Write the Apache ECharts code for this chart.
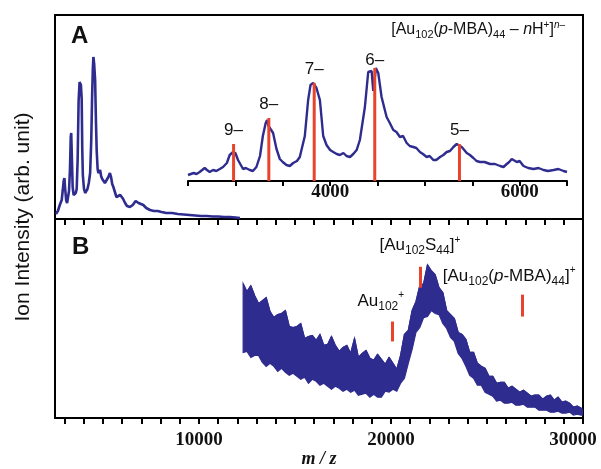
<!DOCTYPE html>
<html>
<head>
<meta charset="utf-8">
<script src="https://cdn.jsdelivr.net/npm/echarts@6/dist/echarts.min.js"></script>
<style>html,body{margin:0;padding:0;background:#fff;}#c{width:601px;height:469px;}</style>
</head>
<body>
<div id="c"></div>
<script>
// ---------- Panel A, full-range spectrum (m/z, intensity) ----------
const aMz = [2550,2600,2650,2700,2750,2800,2850,2900,2950,2990,3030,3080,3130,3180,3230,3280,3320,3345,3380,3420,3470,3520,3580,3630,3680,3730,3780,3810,3850,3890,3920,3950,4010,4070,4130,4190,4260,4330,4390,4430,4470,4500,4540,4590,4630,4670,4720,4760,4800,4850,4900,4960,5020,5100,5190,5280,5360,5420,5480,5540,5620,5700,5800,5900,5970,6050,6150,6250,6400,6550,6700,6760,6850,6950,7100,7250,7450,7650,7850,8050,8300,8600,8900,9200,9500,9800,10100,10400,10700,11000,11300,11600,11900,12135];
const aInt = [5,6,8,11,14,16,19,28,38,41,30,19,16,18,28,50,82,86,60,32,24,22,26,30,60,118,137,139,134,120,70,44,30,26,27,30,36,46,80,120,150,162,155,139,100,69,50,46,48,49,43,40,39,36,36,42,46,42,35,32,27,22,20,24,26,20,16,13,12,14,18,19,16,14,14,11,9,8,8,7,6,6,5,4.5,4,3.5,3,3,2.5,2.5,2,2,1.5,1];

// ---------- Panel A inset (zoom 2500-6500) ----------
const insetMz = [2500,2560,2590,2623,2676,2700,2729,2765,2799,2835,
2870,2910,2940,2976,3000,3028,3081,3110,3152,3185,
3222,3260,3290,3320,3335,3350,3363,3398,3434,3469,
3500,3539,3575,3610,3650,3680,3733,3768,3793,3821,
3856,3892,3927,3962,4000,4033,4070,4103,4140,4173,
4210,4244,4280,4314,4367,4402,4438,4455,4483,4508,
4543,4596,4630,4667,4700,4737,4770,4808,4840,4878,
4910,4948,4980,5019,5050,5089,5120,5160,5195,5230,
5265,5301,5336,5389,5442,5475,5512,5545,5583,5630,
5688,5740,5794,5830,5864,5890,5917,5970,6000,6041,
6090,6146,6200,6252,6300,6358,6410,6463,6500];
const insetInt = [6,8,7,9,13,11,9,11,10,12,
14,18,26,29,28,21,12,13,11,10,
14,25,45,58,61,55,53,48,32,22,
19,16,15,18,20,24,45,81,96,98,
93,81,45,36,31,29,27,26,28,25,
24,27,31,41,74,109,110,90,113,108,
84,64,58,51,49,44,45,38,35,34,
33,29,27,24,25,21,21,24,26,29,
30,34,37,34,28,26,23,20,19,19,
17,17,15,14,17,19,22,19,20,15,
13,12,13,11,10,11,12,10,9];

// charge-state markers [Au102(p-MBA)44 - nH+]n-
const chargeMz = [2981, 3353, 3832, 4471, 5365];
const chargeHeight = [37, 63, 98, 113, 37];
const chargeLabels = ['9\u2013', '8\u2013', '7\u2013', '6\u2013', '5\u2013'];

// ---------- Panel B spectrum band (upper / lower envelope) ----------
const bMz = [12300,12500,12700,12900,13100,13300,13500,13700,13900,14100,
14300,14500,14700,14900,15100,15300,15500,15700,15900,16100,
16300,16500,16700,16900,17100,17300,17500,17700,17900,18100,
18300,18500,18700,18900,19100,19300,19500,19700,19900,20100,
20300,20500,20700,20900,21100,21300,21500,21700,21900,22100,
22300,22500,22700,22900,23100,23300,23500,23700,23900,24100,
24300,24500,24700,24900,25100,25300,25500,25700,25900,26100,
26300,26500,26700,26900,27100,27300,27500,27700,27900,28100,
28300,28500,28700,28900,29100,29300,29500,29700,29900,30000];
const bUpper = [135,127,133,123,115,118,121,107,101,104,
105,108,92,91,92,95,80,82,83,78,
84,73,74,82,73,67,71,73,65,80,
61,65,68,60,58,64,59,54,61,55,
49,63,84,88,108,117,133,135,154,148,
144,131,126,108,104,100,86,84,79,66,
66,55,52,50,42,42,35,36,36,30,
32,29,26,28,25,22,23,23,19,22,
23,18,21,16,17,15,11,12,10,8];
const bLower = [66,67,61,63,63,56,52,55,52,47,
50,46,43,45,42,39,41,35,39,37,
33,35,32,29,32,30,27,29,26,28,
23,24,25,21,24,21,21,27,26,29,
27,35,40,55,69,86,91,101,102,108,
105,104,95,90,81,77,65,60,52,43,
40,33,33,26,24,22,17,18,15,15,
16,13,13,14,11,11,11,8,8,8,
6,6,7,5,5,6,3,4,3,3];

// panel B assignment marks
const bMarkMz = [20091, 21502, 26831];
const bMarkLo = [77, 131, 102];
const bMarkHi = [97, 152, 124];
const bMarkLabels = ['Au{s|102}{u|+}', '[Au{s|102}S{s|44}]{u|+}', '[Au{s|102}({i|p}-MBA){s|44}]{u|+}'];

// ---------- ticks / labels ----------
const mainTicks = [3000,4000,5000,6000,7000,8000,9000,10000,11000,12000,13000,14000,15000,16000,17000,18000,19000,20000,21000,22000,23000,24000,25000,26000,27000,28000,29000,30000];
const mainLabels = [10000, 20000, 30000];
const insetLabels = [4000, 6000];

// ---------- build ----------
const NAVY = '#2f2c8f';
const RED = '#e8432b';
const zip = (a, b) => a.slice(0, Math.min(a.length, b.length)).map((v, i) => [v, b[i]]);

const chargeLabelGap = [5, 5, 5, -1, 5];
const chargeData = chargeMz.map((m, i) => ({ value: [m, chargeHeight[i]], label: { distance: chargeLabelGap[i] } }));

const markStyle = [
  { distance: 9, padding: [0, 24, 0, 0] },
  { distance: 10, padding: [0, 0, 0, 0] },
  { distance: 7, padding: [0, 26, 0, 0] }
];
const markData = bMarkMz.map((m, i) => [
  { coord: [m, bMarkLo[i]] },
  { coord: [m, bMarkHi[i]], label: Object.assign({ formatter: bMarkLabels[i] }, markStyle[i]) }
]);

const richSub = {
  s: { fontSize: 12, verticalAlign: 'bottom', lineHeight: 22, fontFamily: 'Liberation Sans', color: '#111' },
  u: { fontSize: 10, verticalAlign: 'top', lineHeight: 22, fontFamily: 'Liberation Sans', color: '#111' },
  i: { fontSize: 17, fontStyle: 'italic', lineHeight: 22, fontFamily: 'Liberation Sans', color: '#111' }
};

const serifLabel = { fontFamily: 'Liberation Serif', fontWeight: 'bold', fontSize: 19, color: '#111' };

const chart = echarts.init(document.getElementById('c'), null, { renderer: 'canvas' });
chart.setOption({
  animation: false,
  backgroundColor: '#fff',
  title: [
    { text: 'A', left: 71, top: 24, padding: 0, textStyle: { fontFamily: 'Liberation Sans', fontWeight: 'bold', fontSize: 24, color: '#111' } },
    { text: 'B', left: 72, top: 235, padding: 0, textStyle: { fontFamily: 'Liberation Sans', fontWeight: 'bold', fontSize: 24, color: '#111' } },
    { text: '[Au{s|102}({i|p}-MBA){s|44} \u2013 {i|n}H{u|+}]{ui|n}{u|\u2013}', right: 36, top: 20, padding: 0,
      textStyle: { fontFamily: 'Liberation Sans', fontSize: 16, fontWeight: 'normal', color: '#111', lineHeight: 20,
        rich: {
          s: { fontSize: 11, verticalAlign: 'bottom', lineHeight: 20, fontFamily: 'Liberation Sans', color: '#111' },
          u: { fontSize: 10, verticalAlign: 'top', lineHeight: 20, fontFamily: 'Liberation Sans', color: '#111' },
          ui: { fontSize: 10, fontStyle: 'italic', verticalAlign: 'top', lineHeight: 20, fontFamily: 'Liberation Sans', color: '#111' },
          i: { fontSize: 16, fontStyle: 'italic', lineHeight: 20, fontFamily: 'Liberation Sans', color: '#111' }
        } } }
  ],
  grid: [
    { left: 55, top: 15, width: 528, height: 204, show: true, borderColor: '#000', borderWidth: 2, backgroundColor: 'transparent' },
    { left: 55, top: 219, width: 528, height: 200, show: true, borderColor: '#000', borderWidth: 2, backgroundColor: 'transparent' },
    { left: 188, top: 41, width: 379, height: 140 },
    { left: 55, top: 15, width: 528, height: 404 }
  ],
  xAxis: [
    { gridIndex: 0, type: 'value', min: 2500, max: 30000, splitLine: { show: false },
      axisLine: { onZero: false, lineStyle: { color: '#000', width: 2 } },
      axisTick: { show: true, customValues: mainTicks, length: 6, lineStyle: { color: '#000', width: 2 } },
      axisLabel: { show: false } },
    { gridIndex: 1, type: 'value', min: 2500, max: 30000, splitLine: { show: false },
      axisLine: { onZero: false, lineStyle: { color: '#000', width: 2 } },
      axisTick: { show: true, customValues: mainTicks, length: 6, lineStyle: { color: '#000', width: 2 } },
      axisLabel: Object.assign({ show: true, customValues: mainLabels, margin: 12,
        formatter: v => v === 30000 ? '{r|' + v + '}' : String(v),
        rich: { r: Object.assign({ padding: [0, 20, 0, 0] }, serifLabel) } }, serifLabel),
      name: 'm / z', nameLocation: 'middle', nameGap: 30,
      nameTextStyle: { fontFamily: 'Liberation Serif', fontStyle: 'italic', fontWeight: 'bold', fontSize: 18, color: '#111' } },
    { gridIndex: 2, type: 'value', min: 2500, max: 6500, interval: 500, splitLine: { show: false },
      axisLine: { onZero: false, lineStyle: { color: '#000', width: 2 } },
      axisTick: { show: true, length: 5, lineStyle: { color: '#000', width: 2 } },
      axisLabel: Object.assign({ show: true, customValues: insetLabels, margin: 2, formatter: v => String(v) }, serifLabel) },
    { gridIndex: 3, type: 'value', min: 0, max: 1, show: false }
  ],
  yAxis: [
    { gridIndex: 0, type: 'value', min: 0, max: 204, show: false, splitLine: { show: false } },
    { gridIndex: 1, type: 'value', min: 0, max: 200, show: false, splitLine: { show: false } },
    { gridIndex: 2, type: 'value', min: 0, max: 140, show: false, splitLine: { show: false } },
    { gridIndex: 3, type: 'value', min: 0, max: 1, splitLine: { show: false },
      axisLine: { show: false }, axisTick: { show: false }, axisLabel: { show: false },
      name: 'Ion Intensity (arb. unit)', nameLocation: 'middle', nameGap: 21,
      nameTextStyle: { fontFamily: 'Liberation Sans', fontSize: 21, color: '#111' } }
  ],
  series: [
    { name: 'A full', type: 'line', xAxisIndex: 0, yAxisIndex: 0, data: zip(aMz, aInt),
      symbol: 'none', silent: true, lineStyle: { color: NAVY, width: 2.6 }, z: 3 },
    { name: 'inset', type: 'line', xAxisIndex: 2, yAxisIndex: 2, data: zip(insetMz, insetInt),
      symbol: 'none', silent: true, lineStyle: { color: NAVY, width: 2.4 }, z: 3 },
    { name: 'charge', type: 'bar', xAxisIndex: 2, yAxisIndex: 2, data: chargeData,
      barWidth: 3, silent: true, itemStyle: { color: RED }, z: 4,
      label: { show: true, position: 'top', distance: 5, formatter: p => chargeLabels[p.dataIndex],
        fontFamily: 'Liberation Sans', fontSize: 17, color: '#111' } },
    { name: 'B band', type: 'custom', xAxisIndex: 1, yAxisIndex: 1, data: [[20000, 50]], silent: true, clip: true, z: 2,
      renderItem: (params, api) => {
        const up = bMz.map((m, i) => api.coord([m, bUpper[i]]));
        const lo = bMz.map((m, i) => api.coord([m, bLower[i]])).reverse();
        return { type: 'polygon', shape: { points: up.concat(lo) }, style: { fill: NAVY, stroke: NAVY, lineWidth: 1.2 } };
      } },
    { name: 'B upper', type: 'line', xAxisIndex: 1, yAxisIndex: 1, data: zip(bMz, bUpper),
      symbol: 'none', silent: true, lineStyle: { color: NAVY, width: 1.2 }, z: 3,
      markLine: { silent: true, symbol: 'none', animation: false,
        lineStyle: { color: RED, width: 3, type: 'solid' },
        label: { show: true, position: 'end', fontFamily: 'Liberation Sans', fontSize: 17, color: '#111', lineHeight: 22, rich: richSub },
        data: markData } }
  ]
});
</script>
</body>
</html>
